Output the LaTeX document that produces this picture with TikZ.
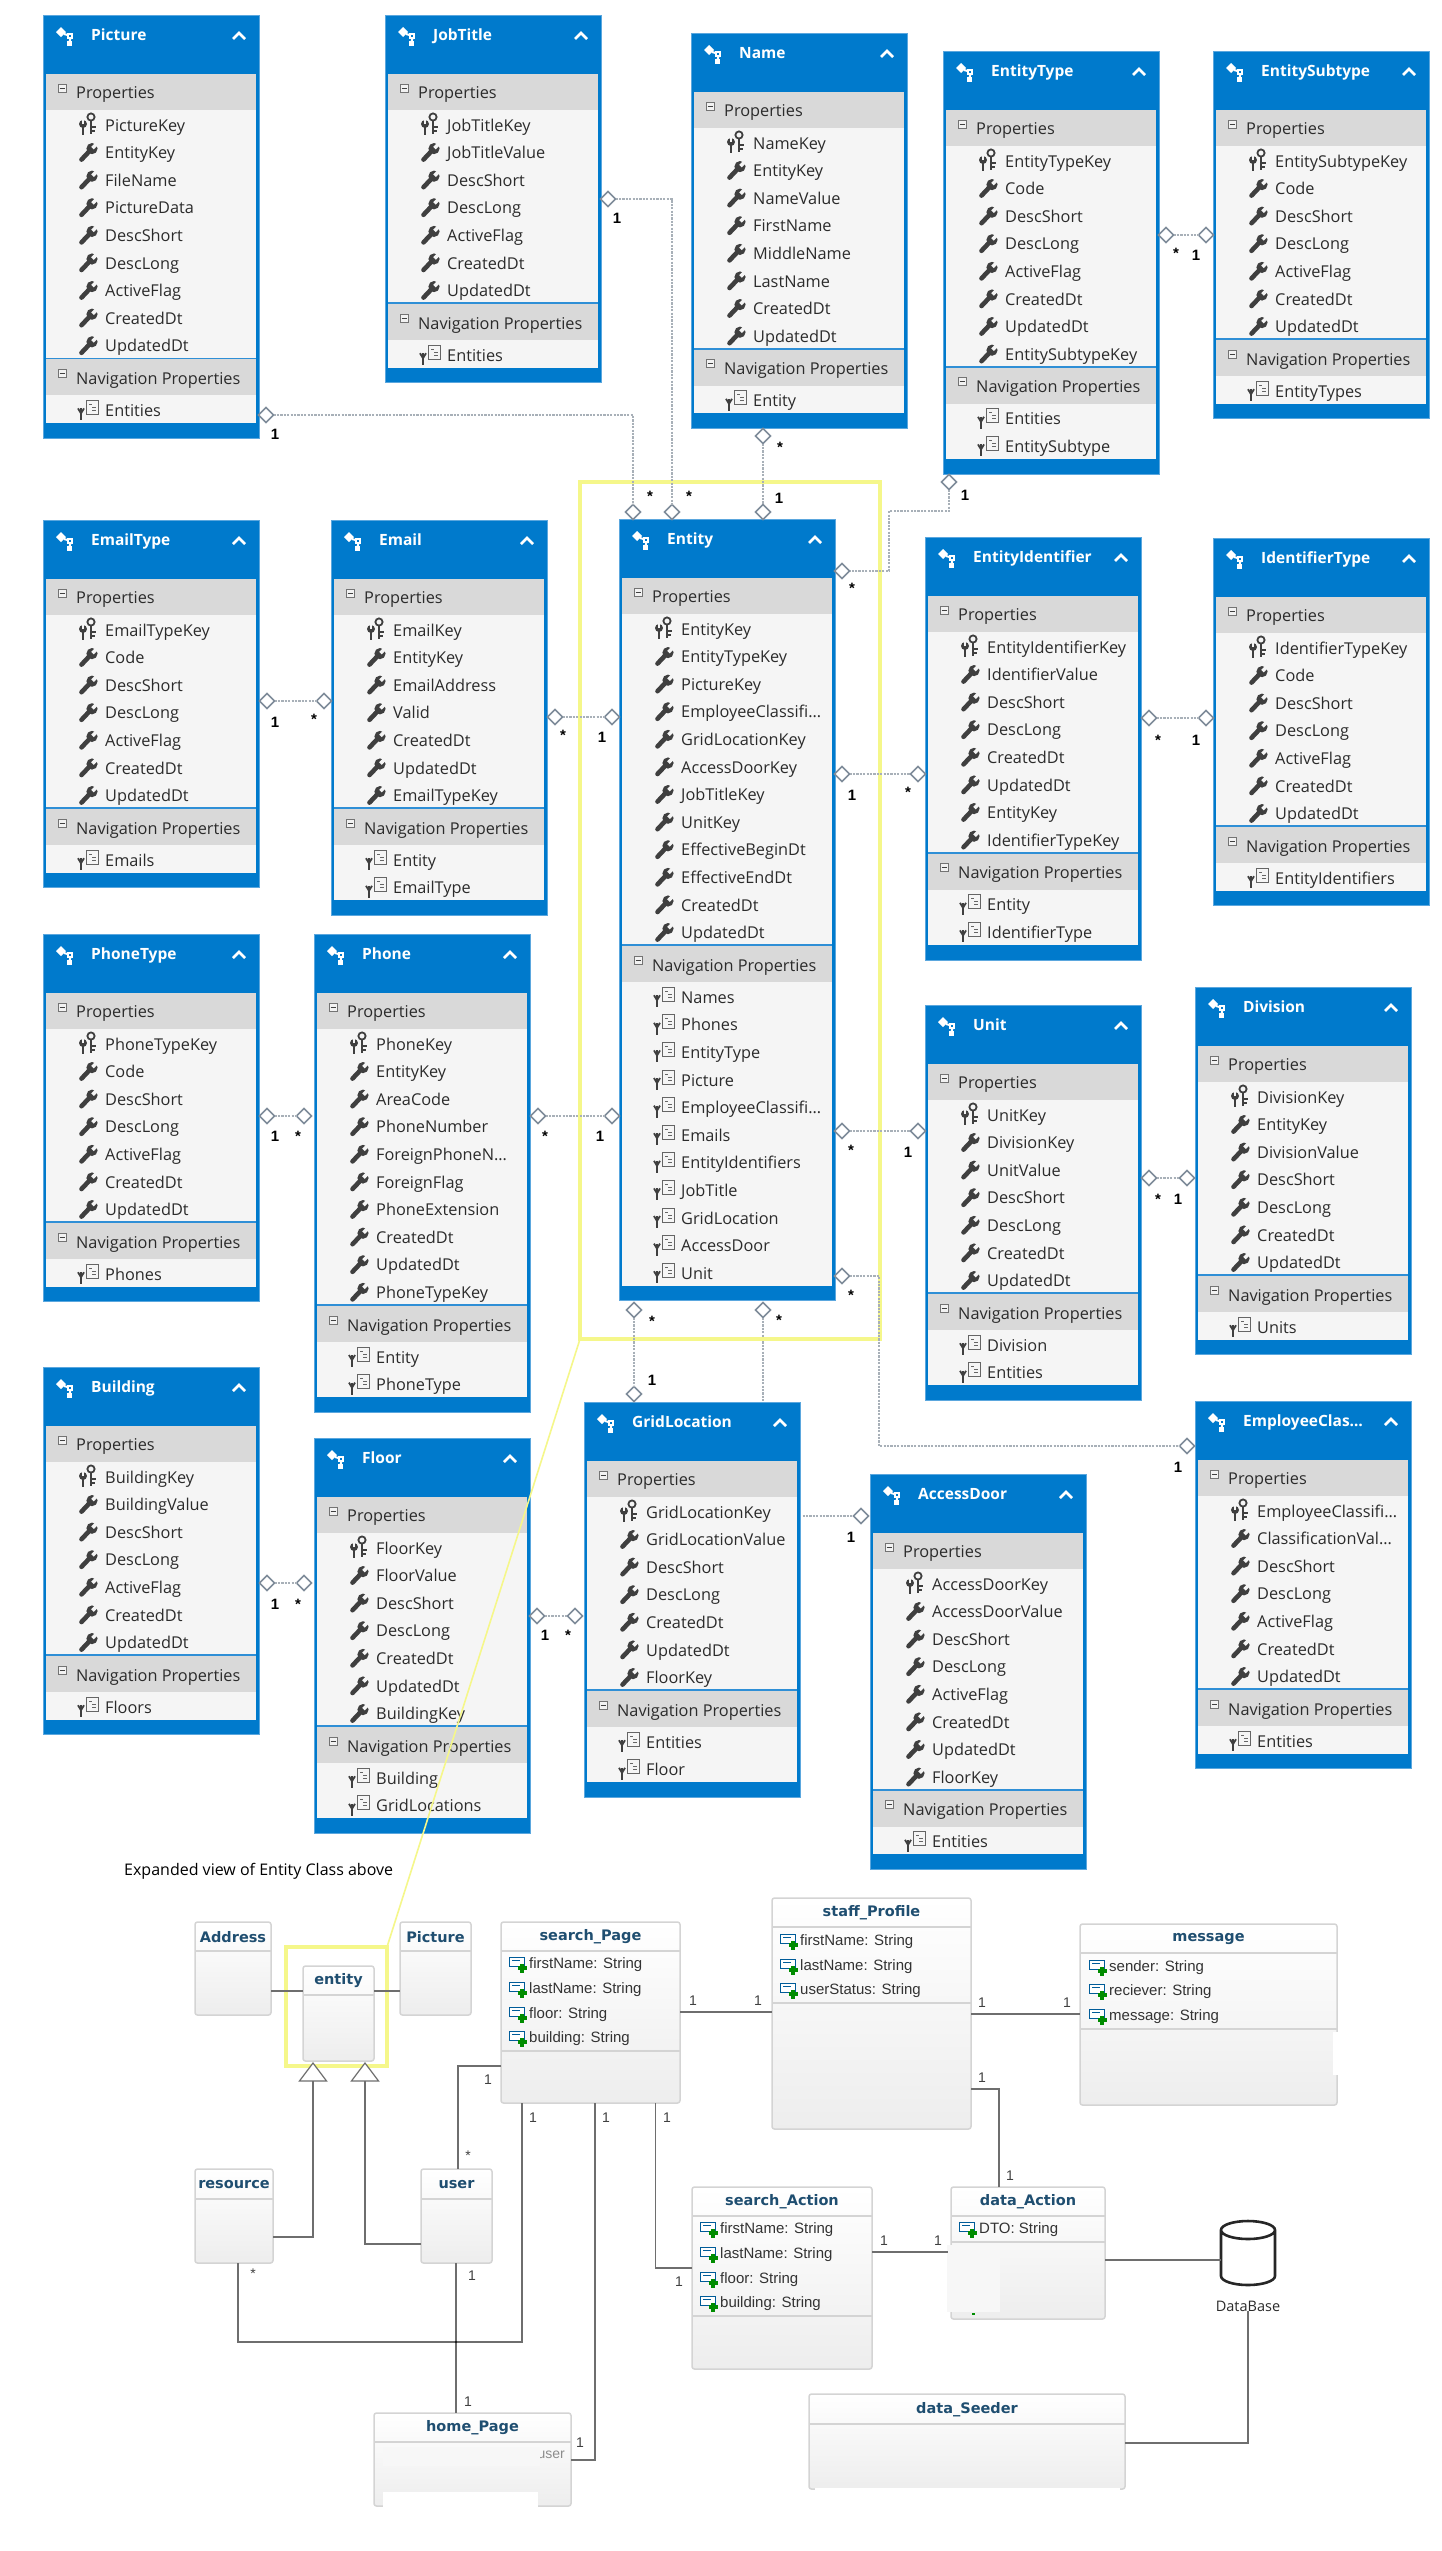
\documentclass[tikz,border=0pt]{standalone}
\usepackage{fontspec}
\usetikzlibrary{shapes.geometric,calc}
\setmainfont{Open Sans}
\newfontfamily\arialf{Liberation Sans}
\newfontfamily\titlef{DejaVu Sans}
\definecolor{vsblue}{HTML}{007ACC}
\definecolor{vsedge}{HTML}{5BA7DE}
\definecolor{vssep}{HTML}{2F8FD6}
\definecolor{vsgray}{HTML}{D9D9D9}
\definecolor{vslight}{HTML}{F5F5F5}
\definecolor{vstext}{HTML}{2B2B2B}
\definecolor{icondark}{HTML}{3F3F3F}
\definecolor{conn}{HTML}{A8B0B8}
\definecolor{diaedge}{HTML}{7F8C9A}
\definecolor{hilite}{HTML}{F5F78A}
\definecolor{umlt}{HTML}{1F4E70}
\definecolor{umledge}{HTML}{D4D4D4}
\definecolor{umlline}{HTML}{6E6E6E}
\tikzset{
  erframe/.style={draw=vsedge,line width=1pt,fill=vsblue,anchor=north west,inner sep=0pt,outer sep=0pt,minimum width=216pt},
  ertitle/.style={anchor=base west,inner sep=0pt,text=white,font=\fontsize{15.5}{18}\selectfont\bfseries},
  errow/.style={anchor=base west,inner sep=0pt,text=vstext,font=\fontsize{16.3}{19}\selectfont},
  erdia/.style={diamond,draw=diaedge,fill=white,line width=1.6pt,inner sep=0pt,outer sep=0pt,minimum width=15pt,minimum height=15pt,aspect=1},
  erconn/.style={draw=conn,line width=1.2pt,dash pattern=on 2.2pt off 1.2pt},
  mult/.style={inner sep=0pt,text=black,font=\arialf\fontsize{15}{17}\selectfont\bfseries},
  umlbox/.style={draw=umledge,line width=1.5pt,rounded corners=2.5pt,top color=white,bottom color=black!7,anchor=north west,inner sep=0pt,outer sep=0pt},
  umltitle/.style={inner sep=0pt,text=umlt,font=\titlef\fontsize{14.5}{17}\selectfont\bfseries},
  umlattr/.style={anchor=base west,inner sep=0pt,text=black!80,font=\arialf\fontsize{15}{17}\selectfont},
  umlconn/.style={draw=umlline,line width=1.6pt},
  umlmult/.style={inner sep=0pt,text=black!75,font=\arialf\fontsize{14}{16}\selectfont},
  hibox/.style={draw=hilite,line width=4.5pt,fill=none,anchor=north west,inner sep=0pt,outer sep=0pt},
  gentri/.style={draw=umlline,line width=1.2pt,fill=white},
}
\newcommand{\icwrench}[1]{%
  \begin{scope}[shift={(#1)}]
    \draw[icondark,line width=4.6pt,line cap=round] (-6.5,7) -- (2,-2);
    \fill[icondark] (4,-4) circle (5.6);
    \draw[vslight,line width=3.6pt] (4.5,-4.5) -- (11,-11);
  \end{scope}}
\newcommand{\ickey}[1]{%
  \begin{scope}[shift={(#1)}]
    \draw[icondark,line width=1.8pt] (3,-8) circle (3.6);
    \draw[icondark,line width=2.4pt] (3,-4) -- (3,9);
    \draw[icondark,line width=1.8pt] (3,2) -- (8,2) (3,6) -- (7,6);
    \draw[icondark,line width=2.4pt] (-5,0) -- (-5,10);
    \fill[icondark] (-5,-1) circle (4);
    \draw[vslight,line width=2pt] (-5,-1) -- (-5,-6);
  \end{scope}}
\newcommand{\icnav}[1]{%
  \begin{scope}[shift={(#1)}]
    \draw[icondark!80,line width=.9pt,fill=vslight] (-1,-10) rectangle (11,4);
    \draw[icondark!80,line width=1pt] (2,-6) -- (5,-6) (5,-3) -- (9,-3) (5,0) -- (9,0);
    \draw[icondark,line width=2.2pt] (-6,-2) -- (-6,10);
    \draw[icondark,line width=1.8pt] (-9,-2) -- (-6,3) -- (-3,-2);
  \end{scope}}
\newcommand{\icentity}[1]{%
  \begin{scope}[shift={(#1)}]
    \fill[white] (-8,-3) -- (-3,-8) -- (2,-3) -- (-3,2) -- cycle;
    \draw[white,line width=2pt] (0,-1) -- (7,1) -- (5,9);
    \fill[white] (3,-2) rectangle (9,4);
    \fill[white] (3,6) rectangle (8,11);
    \fill[vsblue] (5,0) rectangle (7,2);
  \end{scope}}
\newcommand{\icminus}[1]{%
  \begin{scope}[shift={(#1)}]
    \draw[black!55,line width=.8pt,fill=black!5] (-4,-4) rectangle (4,4);
    \draw[black!75,line width=1pt] (-2.5,0) -- (2.5,0);
  \end{scope}}
% id, x, y, title, nprops, nnavs, props, navs
\newcommand{\erbox}[8]{%
  \pgfmathsetmacro{\erh}{147+27.6*(#5+#6)}
  \pgfmathsetmacro{\era}{95+27.6*#5}
  \pgfmathsetmacro{\erb}{\era+37}
  \pgfmathsetmacro{\erc}{\erb+27.6*#6}
  \node[erframe,minimum height=\erh pt] (#1) at (#2,#3) {};
  \begin{scope}[shift={(#2,#3)}]
    \fill[vsgray] (3,59) rectangle (213,95);
    \fill[vslight] (3,95) rectangle (213,\era);
    \fill[vsgray] (3,\era) rectangle (213,\erb);
    \fill[vslight] (3,\erb) rectangle (213,\erc);
    \draw[vssep,line width=1.5pt] (3,\era) -- (213,\era);
    \icentity{21,20}
    \node[ertitle] (#1-title) at (48,25.5) {#4};
    \draw[white,line width=2.6pt] (190,24) -- (196,18) -- (202,24);
    \icminus{19,73}
    \node[errow] (#1-phead) at (33,83) {Properties};
    \icminus{19,\era+15}
    \node[errow] (#1-nhead) at (33,\era+26) {Navigation Properties};
    \foreach \t [count=\i] in {#7} {
      \pgfmathsetmacro{\ry}{110+27.6*(\i-1)}
      \ifnum\i=1 \ickey{45,\ry}\else \icwrench{45,\ry}\fi
      \node[errow] (#1-p\i) at (62,\ry+6) {\t};
    }
    \foreach \t [count=\i] in {#8} {
      \pgfmathsetmacro{\ry}{\erb+15+27.6*(\i-1)}
      \icnav{44,\ry}
      \node[errow] (#1-n\i) at (62,\ry+6) {\t};
    }
  \end{scope}}
% id, x1, y1, x2, y2, header y, title
\newcommand{\umlnode}[7]{%
  \pgfmathsetmacro{\uw}{#4-#2}
  \pgfmathsetmacro{\uh}{#5-#3}
  \node[umlbox,minimum width=\uw pt,minimum height=\uh pt] (#1) at (#2,#3) {};
  \draw[umledge,line width=1.4pt] (#2,#6) -- (#4,#6);
  \node[umltitle] (#1-title) at ({(#2+#4)/2},{(#3+#6)/2+.5}) {#7};}
\newcommand{\umlattrib}[4]{% id, x, y, text
  \draw[blue!40!cyan!60!black,line width=1pt,fill=white] (#2-8,#3-6) rectangle (#2+7,#3+3);
  \draw[blue!40!cyan!60!black,line width=.8pt] (#2-5,#3-3) -- (#2+3,#3-3);
  \fill[green!55!black] (#2+3,#3+.5) rectangle (#2+7,#3+9.5);
  \fill[green!55!black] (#2+.5,#3+3) rectangle (#2+9.5,#3+7);
  \node[umlattr] (#1) at (#2+12,#3+5) {#4};}
\begin{document}
\begin{tikzpicture}[x=1pt,y=-1pt]
\useasboundingbox (0,0) rectangle (1442,2551);
\fill[white] (0,0) rectangle (1442,2551);

% this connector passes behind the GridLocation box
\node[erdia] (e-door) at (763,1310) {};
\node[erdia] (d-door) at (861,1516) {};
\draw[erconn] (e-door) |- (d-door);

\erbox{picture}{43}{15}{Picture}{9}{1}{PictureKey,EntityKey,FileName,PictureData,DescShort,DescLong,ActiveFlag,CreatedDt,UpdatedDt}{Entities}
\erbox{jobtitle}{385}{15}{JobTitle}{7}{1}{JobTitleKey,JobTitleValue,DescShort,DescLong,ActiveFlag,CreatedDt,UpdatedDt}{Entities}
\erbox{name}{691}{33}{Name}{8}{1}{NameKey,EntityKey,NameValue,FirstName,MiddleName,LastName,CreatedDt,UpdatedDt}{Entity}
\erbox{entitytype}{943}{51}{EntityType}{8}{2}{EntityTypeKey,Code,DescShort,DescLong,ActiveFlag,CreatedDt,UpdatedDt,EntitySubtypeKey}{Entities,EntitySubtype}
\erbox{entitysubtype}{1213}{51}{EntitySubtype}{7}{1}{EntitySubtypeKey,Code,DescShort,DescLong,ActiveFlag,CreatedDt,UpdatedDt}{EntityTypes}
\erbox{emailtype}{43}{520}{EmailType}{7}{1}{EmailTypeKey,Code,DescShort,DescLong,ActiveFlag,CreatedDt,UpdatedDt}{Emails}
\erbox{email}{331}{520}{Email}{7}{2}{EmailKey,EntityKey,EmailAddress,Valid,CreatedDt,UpdatedDt,EmailTypeKey}{Entity,EmailType}
\erbox{entity}{619}{519}{Entity}{12}{11}{EntityKey,EntityTypeKey,PictureKey,EmployeeClassifi…,GridLocationKey,AccessDoorKey,JobTitleKey,UnitKey,EffectiveBeginDt,EffectiveEndDt,CreatedDt,UpdatedDt}{Names,Phones,EntityType,Picture,EmployeeClassifi…,Emails,EntityIdentifiers,JobTitle,GridLocation,AccessDoor,Unit}
\erbox{entityidentifier}{925}{537}{EntityIdentifier}{8}{2}{EntityIdentifierKey,IdentifierValue,DescShort,DescLong,CreatedDt,UpdatedDt,EntityKey,IdentifierTypeKey}{Entity,IdentifierType}
\erbox{identifiertype}{1213}{538}{IdentifierType}{7}{1}{IdentifierTypeKey,Code,DescShort,DescLong,ActiveFlag,CreatedDt,UpdatedDt}{EntityIdentifiers}
\erbox{phonetype}{43}{934}{PhoneType}{7}{1}{PhoneTypeKey,Code,DescShort,DescLong,ActiveFlag,CreatedDt,UpdatedDt}{Phones}
\erbox{phone}{314}{934}{Phone}{10}{2}{PhoneKey,EntityKey,AreaCode,PhoneNumber,ForeignPhoneN…,ForeignFlag,PhoneExtension,CreatedDt,UpdatedDt,PhoneTypeKey}{Entity,PhoneType}
\erbox{unit}{925}{1005}{Unit}{7}{2}{UnitKey,DivisionKey,UnitValue,DescShort,DescLong,CreatedDt,UpdatedDt}{Division,Entities}
\erbox{division}{1195}{987}{Division}{7}{1}{DivisionKey,EntityKey,DivisionValue,DescShort,DescLong,CreatedDt,UpdatedDt}{Units}
\erbox{building}{43}{1367}{Building}{7}{1}{BuildingKey,BuildingValue,DescShort,DescLong,ActiveFlag,CreatedDt,UpdatedDt}{Floors}
\erbox{floor}{314}{1438}{Floor}{7}{2}{FloorKey,FloorValue,DescShort,DescLong,CreatedDt,UpdatedDt,BuildingKey}{Building,GridLocations}
\erbox{gridlocation}{584}{1402}{GridLocation}{7}{2}{GridLocationKey,GridLocationValue,DescShort,DescLong,CreatedDt,UpdatedDt,FloorKey}{Entities,Floor}
\erbox{accessdoor}{870}{1474}{AccessDoor}{8}{1}{AccessDoorKey,AccessDoorValue,DescShort,DescLong,ActiveFlag,CreatedDt,UpdatedDt,FloorKey}{Entities}
\erbox{employeeclass}{1195}{1401}{EmployeeClas…}{7}{1}{EmployeeClassifi…,ClassificationVal…,DescShort,DescLong,ActiveFlag,CreatedDt,UpdatedDt}{Entities}

% yellow highlight
\node[hibox,minimum width=300pt,minimum height=857pt] (hibig) at (580,482) {};
\node[hibox,minimum width=101pt,minimum height=119pt] (hismall) at (286,1947) {};
\draw[hilite,line width=1.6pt] (hibig.south west) -- (hismall.north east);

% ER connectors
\node[erdia] (d-pic) at (266,415) {};
\node[erdia] (d-job) at (608,199) {};
\node[erdia] (d-name) at (763,436) {};
\node[erdia] (d-etype) at (949,482) {};
\node[erdia] (d-et1) at (1166,235) {};
\node[erdia] (d-et2) at (1206,235) {};
\node[erdia] (e-pic) at (633,512) {};
\node[erdia] (e-job) at (672,512) {};
\node[erdia] (e-name) at (763,512) {};
\node[erdia] (e-etype) at (842,571) {};
\node[erdia] (e-id) at (842,774) {};
\node[erdia] (e-email) at (612,717) {};
\node[erdia] (d-email) at (555,717) {};
\node[erdia] (d-em1) at (267,701) {};
\node[erdia] (d-em2) at (324,701) {};
\node[erdia] (d-id) at (918,774) {};
\node[erdia] (d-it1) at (1149,718) {};
\node[erdia] (d-it2) at (1206,718) {};
\node[erdia] (d-ph1) at (267,1116) {};
\node[erdia] (d-ph2) at (304,1116) {};
\node[erdia] (d-ph3) at (538,1116) {};
\node[erdia] (e-ph) at (612,1116) {};
\node[erdia] (e-unit) at (842,1131) {};
\node[erdia] (d-unit) at (918,1131) {};
\node[erdia] (d-u1) at (1149,1178) {};
\node[erdia] (d-u2) at (1187,1178) {};
\node[erdia] (e-emp) at (842,1276) {};
\node[erdia] (d-emp) at (1187,1446) {};
\node[erdia] (e-grid) at (634,1310) {};
\node[erdia] (d-grid) at (634,1394) {};
\node[erdia] (d-b1) at (267,1583) {};
\node[erdia] (d-b2) at (304,1583) {};
\node[erdia] (d-f1) at (537,1616) {};
\node[erdia] (d-f2) at (575,1616) {};
\coordinate (etbend1) at (949,511);
\coordinate (etbend2) at (889,511);
\coordinate (etbend3) at (889,571);
\coordinate (empbend) at (879,1276);
\draw[erconn] (d-pic) -| (e-pic);
\draw[erconn] (d-job) -| (e-job);
\draw[erconn] (d-name) -- (e-name);
\draw[erconn] (d-etype) -- (etbend1) -- (etbend2) -- (etbend3) -- (e-etype);
\draw[erconn] (d-et1) -- (d-et2);
\draw[erconn] (d-email) -- (e-email);
\draw[erconn] (d-em1) -- (d-em2);
\draw[erconn] (e-id) -- (d-id);
\draw[erconn] (d-it1) -- (d-it2);
\draw[erconn] (d-ph1) -- (d-ph2);
\draw[erconn] (d-ph3) -- (e-ph);
\draw[erconn] (e-unit) -- (d-unit);
\draw[erconn] (d-u1) -- (d-u2);
\draw[erconn] (e-emp) -- (empbend) |- (d-emp);
\draw[erconn] (e-grid) -- (d-grid);
\draw[erconn] (d-b1) -- (d-b2);
\draw[erconn] (d-f1) -- (d-f2);

\foreach \nm/\x/\y/\t in {m1/275/434/1,m2/650/496/*,m3/617/218/1,m4/689/496/*,m5/780/447/*,m6/779/498/1,m7/965/495/1,m8/852/588/*,m9/1176/253/*,m10/1196/255/1,m11/563/735/*,m12/602/737/1,m13/275/722/1,m14/314/719/*,m15/852/795/1,m16/908/792/*,m17/1158/740/*,m18/1196/740/1,m19/275/1136/1,m20/298/1136/*,m21/545/1136/*,m22/600/1136/1,m23/851/1150/*,m24/908/1152/1,m25/1158/1199/*,m26/1178/1199/1,m27/851/1295/*,m28/1178/1467/1,m29/652/1321/*,m30/652/1380/1,m31/779/1320/*,m32/851/1537/1,m33/275/1604/1,m34/298/1604/*,m35/545/1635/1,m36/568/1635/*}
  \node[mult] (\nm) at (\x,\y) {\t};

\node[anchor=west,inner sep=0pt,font=\fontsize{16}{18}\selectfont,text=black] (caption) at (124,1871) {Expanded view of Entity Class above};

% UML part
\umlnode{address}{195}{1922}{271}{2015}{1951}{Address}
\umlnode{umlentity}{303}{1966}{374}{2061}{1995}{entity}
\umlnode{umlpicture}{400}{1922}{471}{2015}{1951}{Picture}
\umlnode{search}{501}{1922}{680}{2103}{1951}{search\_Page}
\umlnode{resource}{195}{2169}{273}{2263}{2199}{resource}
\umlnode{user}{421}{2169}{492}{2263}{2199}{user}
\umlnode{home}{374}{2413}{571}{2506}{2442}{home\_Page}
\umlnode{staff}{772}{1898}{971}{2129}{1927}{staff\_Profile}
\umlnode{message}{1080}{1924}{1337}{2105}{1953}{message}
\umlnode{searchaction}{692}{2187}{872}{2369}{2216}{search\_Action}
\umlnode{dataaction}{951}{2187}{1105}{2319}{2216}{data\_Action}
\umlnode{seeder}{809}{2394}{1125}{2489}{2424}{data\_Seeder}
\draw[umledge,line width=1.4pt] (501,2051) -- (680,2051) (772,2003) -- (971,2003) (1080,2029) -- (1337,2029) (692,2316) -- (872,2316) (951,2242) -- (1105,2242);
\node[anchor=east,inner sep=0pt,text=black!45,font=\arialf\fontsize{14}{16}\selectfont] (homeuser) at (565,2455) {user};
\fill[black!3] (947,2245) rectangle (1000,2312);
\fill[black!3] (383,2447) rectangle (540,2466);
\fill[white] (383,2492) rectangle (538,2513);
\fill[white] (815,2488) rectangle (1120,2492);
\fill[white] (1333,2032) rectangle (1340,2075);
\fill[green!55!black] (972,2313) rectangle (975,2315);

\umlattrib{s1}{517}{1963}{firstName: String}
\umlattrib{s2}{517}{1988}{lastName: String}
\umlattrib{s3}{517}{2013}{floor: String}
\umlattrib{s4}{517}{2037}{building: String}
\umlattrib{p1}{788}{1940}{firstName: String}
\umlattrib{p2}{788}{1965}{lastName: String}
\umlattrib{p3}{788}{1989}{userStatus: String}
\umlattrib{g1}{1097}{1966}{sender: String}
\umlattrib{g2}{1097}{1990}{reciever: String}
\umlattrib{g3}{1097}{2015}{message: String}
\umlattrib{a1}{708}{2228}{firstName: String}
\umlattrib{a2}{708}{2253}{lastName: String}
\umlattrib{a3}{708}{2278}{floor: String}
\umlattrib{a4}{708}{2302}{building: String}
\umlattrib{d1}{967}{2228}{DTO: String}

% generalisation triangles
\node[isosceles triangle,isosceles triangle apex angle=74,shape border rotate=90,gentri,inner sep=0pt,outer sep=0pt,minimum height=18pt,minimum width=27pt,anchor=apex] (tri1) at (313,2063) {};
\node[isosceles triangle,isosceles triangle apex angle=74,shape border rotate=90,gentri,inner sep=0pt,outer sep=0pt,minimum height=18pt,minimum width=27pt,anchor=apex] (tri2) at (365,2063) {};

\draw[umlconn] (address.east |- 0,1991) -- (umlentity.west |- 0,1991);
\draw[umlconn] (umlentity.east |- 0,1991) -- (umlpicture.west |- 0,1991);
\draw[umlconn] (resource.east |- 0,2237) -| (tri1.south);
\draw[umlconn] (user.west |- 0,2244) -| (tri2.south);
\draw[umlconn] (search.west |- 0,2066) -| (458,2169);
\draw[umlconn] (238,2263) |- (522,2342) -- (522,2103);
\draw[umlconn] (456,2263) -- (456,2413);
\fill[black] (456,2342) circle (1.2);
\draw[umlconn] (595,2103) |- (home.east |- 0,2460);
\draw[umlconn] (655.5,2103) |- (searchaction.west |- 0,2268);
\draw[umlconn] (search.east |- 0,2012) -- (staff.west |- 0,2012);
\draw[umlconn] (staff.east |- 0,2014) -- (message.west |- 0,2014);
\draw[umlconn] (staff.east |- 0,2089) -| (999,2187);
\draw[umlconn] (searchaction.east |- 0,2252) -- (948,2252);

\node[inner sep=0pt,minimum width=54pt,minimum height=64pt] (db) at (1248,2253) {};
\draw[black!85,line width=2.6pt,fill=white] (1221,2230) -- (1221,2276) arc[start angle=180,end angle=360,x radius=27pt,y radius=9pt] -- (1275,2230) arc[start angle=0,end angle=180,x radius=27pt,y radius=9pt] arc[start angle=180,end angle=360,x radius=27pt,y radius=9pt];
\node[inner sep=0pt,text=vstext,font=\fontsize{14.5}{17}\selectfont] (dblabel) at (1248,2306) {DataBase};
\draw[umlconn] (dataaction.east |- 0,2260) -- (db.west |- 0,2260);
\draw[umlconn] (dblabel.south) -- (1248,2443) -- (seeder.east |- 0,2443);

\foreach \nm/\x/\y/\t in {u1/488/2080/1,u2/468/2156/*,u3/253/2274/*,u4/533/2118/1,u5/472/2276/1,u6/468/2402/1,u7/606/2118/1,u8/580/2443/1,u9/667/2118/1,u10/679/2282/1,u11/693/2001/1,u12/758/2001/1,u13/982/2003/1,u14/1067/2003/1,u15/982/2078/1,u16/1010/2176/1,u17/884/2241/1,u18/938/2241/1}
  \node[umlmult] (\nm) at (\x,\y) {\t};
\end{tikzpicture}
\end{document}
